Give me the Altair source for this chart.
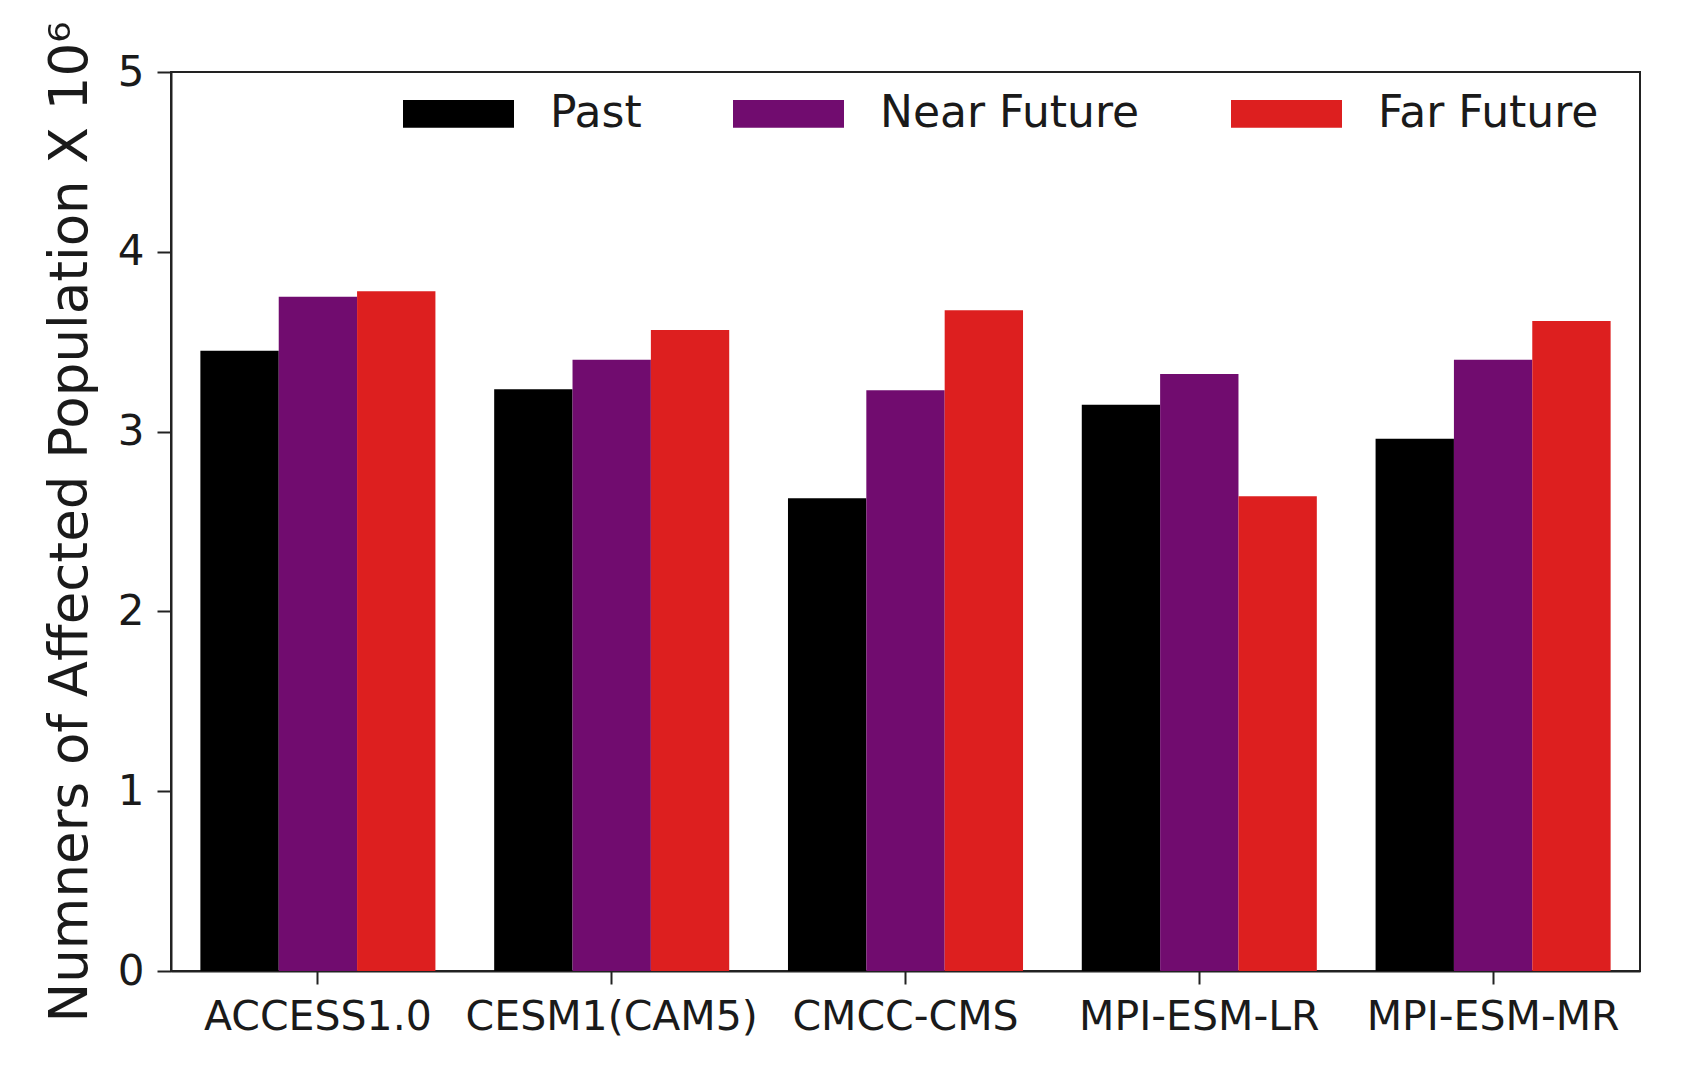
import altair as alt
import pandas as pd

models = ["ACCESS1.0", "CESM1(CAM5)", "CMCC-CMS", "MPI-ESM-LR", "MPI-ESM-MR"]
periods = ["Past", "Near Future", "Far Future"]
past = [3.45, 3.235, 2.63, 3.15, 2.96]
near_future = [3.75, 3.40, 3.23, 3.32, 3.40]
far_future = [3.78, 3.565, 3.675, 2.64, 3.615]
colors = ["#000000", "#710c6f", "#dd1f1f"]
y_ticks = [0, 1, 2, 3, 4, 5]

rows = []
for series_name, vals in zip(periods, [past, near_future, far_future]):
    for m, v in zip(models, vals):
        rows.append({"model": m, "period": series_name, "value": v})
df = pd.DataFrame(rows)

FONT = "DejaVu Sans"
rect_path = "M-1,-0.25H1V0.25H-1Z"

chart = alt.Chart(df).mark_bar().encode(
    x=alt.X(
        "model:N",
        sort=models,
        scale=alt.Scale(paddingInner=0.2, paddingOuter=0.1),
        axis=alt.Axis(
            title=None,
            labelAngle=0,
            labelFontSize=41,
            labelFont=FONT,
            labelColor="#1a1a1a",
            labelPadding=13,
            labelLimit=0,
            labelOverlap=False,
            tickSize=13,
            tickWidth=2,
            tickColor="#222222",
            domainColor="#222222",
            domainWidth=2,
        ),
    ),
    xOffset=alt.XOffset(
        "period:N", sort=periods, scale=alt.Scale(paddingInner=0, paddingOuter=0)
    ),
    y=alt.Y(
        "value:Q",
        scale=alt.Scale(domain=[0, 5], nice=False),
        axis=alt.Axis(
            title="Numners of Affected Population X 10⁶",
            titleFontSize=53,
            titleFont=FONT,
            titleFontWeight="normal",
            titleColor="#1a1a1a",
            titleX=-85,
            titleBaseline="alphabetic",
            values=y_ticks,
            format="d",
            grid=False,
            labelFontSize=42,
            labelFont=FONT,
            labelColor="#1a1a1a",
            labelPadding=13,
            tickSize=14,
            tickWidth=2,
            tickColor="#222222",
            domainColor="#222222",
            domainWidth=2,
        ),
    ),
    color=alt.Color(
        "period:N",
        sort=periods,
        scale=alt.Scale(domain=periods, range=colors),
        legend=alt.Legend(
            title=None,
            orient="none",
            direction="horizontal",
            legendX=232,
            legendY=-14,
            symbolType=rect_path,
            symbolSize=12321,
            symbolStrokeWidth=0,
            symbolOpacity=1,
            labelFontSize=44,
            labelFont=FONT,
            labelColor="#1a1a1a",
            labelOffset=36,
            labelLimit=0,
            columnPadding=91,
            padding=0,
        ),
    ),
).properties(
    width=1469,
    height=899,
    autosize="none",
    background="white",
    padding={"left": 163, "top": 64, "right": 36, "bottom": 112},
).configure_view(
    stroke="#222222", strokeWidth=2
)

chart.save("out.html", embed_options={"renderer": "svg", "actions": False})
